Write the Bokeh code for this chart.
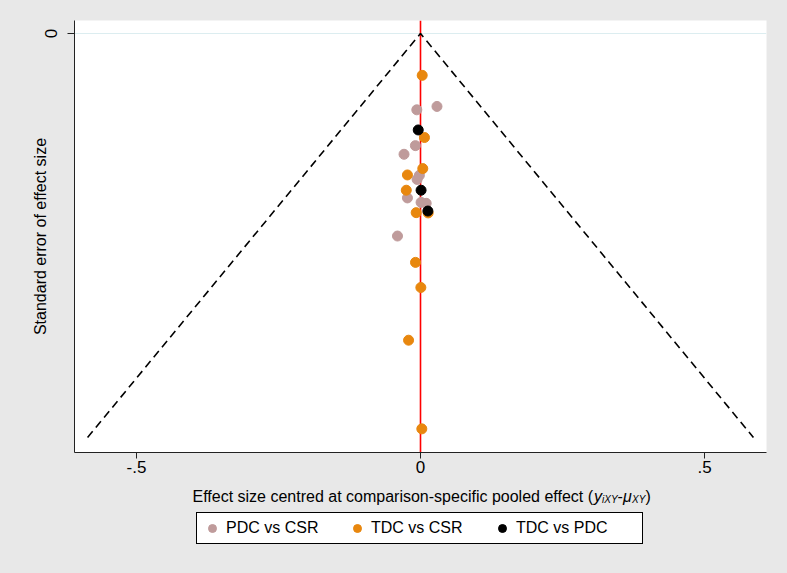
from bokeh.plotting import figure
from bokeh.layouts import column
from bokeh.models import (Range1d, FixedTicker, Span, Legend, LegendItem, Label)
from bokeh.embed import file_html
from bokeh.resources import INLINE

# ---- data ----
pdc_csr_x = [0.029, -0.0065, -0.009, -0.029, -0.002, -0.006, -0.023, 0.001, 0.010, -0.0405]
pdc_csr_se = [0.054, 0.0565, 0.083, 0.0894, 0.105, 0.108, 0.1217, 0.125, 0.1257, 0.1499]

tdc_csr_x = [0.003, 0.007, 0.004, -0.023, -0.025, 0.0135, -0.0076, -0.0088, 0.0006, -0.021, 0.0023]
tdc_csr_se = [0.031, 0.077, 0.100, 0.1047, 0.116, 0.1328, 0.1326, 0.1694, 0.188, 0.227, 0.2926]

tdc_pdc_x = [-0.004, 0.001, 0.013]
tdc_pdc_se = [0.0714, 0.116, 0.1314]

funnel_x = [-0.586, 0.0, 0.586]
funnel_se = [0.299, 0.0, 0.299]
pooled_x = 0.0

series_names = ["PDC vs CSR", "TDC vs CSR", "TDC vs PDC"]
series_colors = ["#bf9b9b", "#e8870e", "#000000"]

x_ticks = [-0.5, 0.0, 0.5]
x_tick_labels = ["-.5", "0", ".5"]
y_ticks = [0.0]

FONT = "Liberation Sans"
BG = "#e8e8e8"
W = 787

series_x = [pdc_csr_x, tdc_csr_x, tdc_pdc_x]
series_se = [pdc_csr_se, tdc_csr_se, tdc_pdc_se]

# ---------------- main plot ----------------
p = figure(width=W, height=480, output_backend="svg", toolbar_location=None,
           x_range=Range1d(-0.609, 0.609), y_range=Range1d(0.3101, -0.0096),
           min_border_left=74, min_border_right=21, min_border_top=20, min_border_bottom=28)
p.border_fill_color = BG
p.background_fill_color = "white"
p.outline_line_color = None

p.xgrid.visible = False
p.ygrid.ticker = FixedTicker(ticks=y_ticks)
p.ygrid.grid_line_color = "#dcedf0"
p.ygrid.grid_line_width = 1

for ax in (p.xaxis[0], p.yaxis[0]):
    ax.axis_line_color = "#222222"
    ax.major_tick_line_color = "#222222"
    ax.minor_tick_line_color = None
    ax.major_tick_in = 0
    ax.major_label_text_font = FONT
    ax.major_label_text_color = "black"
    ax.axis_label_text_font = FONT
    ax.axis_label_text_font_style = "normal"
    ax.axis_label_text_font_size = "16px"
    ax.axis_label_text_color = "black"

p.xaxis.ticker = FixedTicker(ticks=x_ticks)
p.xaxis.major_label_overrides = {t: l for t, l in zip(x_ticks, x_tick_labels)}
p.xaxis.major_tick_out = 6
p.xaxis.major_label_standoff = 2
p.xaxis.major_label_text_font_size = "17px"
p.xaxis.axis_label = None

p.yaxis.ticker = FixedTicker(ticks=y_ticks)
p.yaxis.major_label_overrides = {0.0: "0"}
p.yaxis.major_label_orientation = "vertical"
p.yaxis.major_tick_out = 7
p.yaxis.major_label_standoff = 10
p.yaxis.major_label_text_font_size = "17px"
p.yaxis.axis_label = "Standard error of effect size"
p.yaxis.axis_label_standoff = -6

p.add_layout(Span(location=pooled_x, dimension="height", line_color="#ff0000",
                  line_width=1.6, level="underlay"))
p.line(funnel_x, funnel_se, line_color="black", line_width=1.6, line_dash="8 5")

for xs, ys, c in zip(series_x, series_se, series_colors):
    p.scatter(xs, ys, size=10, fill_color=c, line_color=c, marker="circle")

# ---------------- footer: x title + legend ----------------
# footer ranges are far from the data, so its copies of the series only feed the legend
f = figure(width=W, height=93, output_backend="svg", toolbar_location=None,
           x_range=Range1d(10, 11), y_range=Range1d(10, 11),
           x_axis_type=None, y_axis_type=None,
           min_border_left=0, min_border_right=0, min_border_top=0, min_border_bottom=0)
f.border_fill_color = BG
f.background_fill_color = BG
f.outline_line_color = None
f.grid.visible = False

legend_renderers = [f.scatter(xs, ys, size=8, fill_color=c, line_color=c, marker="circle")
                    for xs, ys, c in zip(series_x, series_se, series_colors)]
legend = Legend(items=[LegendItem(label=n, renderers=[r]) for n, r in zip(series_names, legend_renderers)],
                location=(122, 29), orientation="horizontal",
                border_line_color="black", border_line_width=1, border_line_alpha=1,
                background_fill_color="white", background_fill_alpha=1,
                label_text_font=FONT, label_text_font_size="16px", label_text_color="black",
                glyph_width=20, glyph_height=20, label_standoff=4,
                label_width=121, spacing=0, padding=5, margin=0)
f.add_layout(legend, "center")

base_y = 77.5
sub_y = 74.0
x0 = 118.0
pieces = [
    ("Effect size centred at comparison-specific pooled effect (", 0.0, base_y, "16px", "normal"),
    ("y", 401.5, base_y, "16px", "italic"),
    ("iXY", 409.5, sub_y, "10px", "italic"),
    ("-", 425.1, base_y, "16px", "normal"),
    ("\u03bc", 430.4, base_y, "16px", "italic"),
    ("XY", 439.6, sub_y, "10px", "italic"),
    (")", 452.9, base_y, "16px", "normal"),
]
for txt, xx, yy, fs, st in pieces:
    f.add_layout(Label(x=x0 + xx, y=yy, x_units="screen", y_units="screen", text=txt,
                       text_font=FONT, text_font_size=fs, text_font_style=st,
                       text_color="black", text_baseline="alphabetic", text_align="left"))

layout = column(p, f, spacing=0)
html = file_html(layout, INLINE)
html = html.replace("</head>", "<style>html, body { background-color: %s; }</style></head>" % BG, 1)
open("out.html", "w").write(html)
